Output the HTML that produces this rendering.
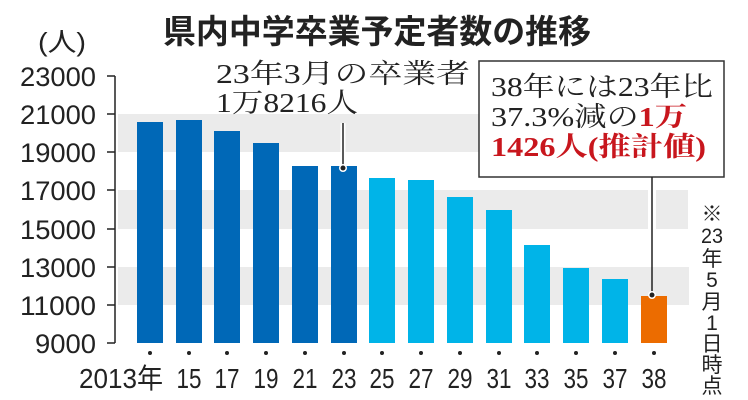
<!DOCTYPE html>
<html><head><meta charset="utf-8"><style>
body{margin:0;background:#fff}
svg{display:block}
.t{font-family:"Liberation Sans","Noto Sans CJK JP",sans-serif}
.s{font-family:"Liberation Serif","Noto Serif CJK SC",serif}
</style></head><body>
<svg width="748" height="400" viewBox="0 0 748 400">
<rect width="748" height="400" fill="#fff"/>
<rect x="118" y="114" width="362" height="38" fill="#ebebeb"/>
<rect x="118" y="190" width="530" height="39" fill="#ebebeb"/>
<rect x="656" y="190" width="32" height="39" fill="#ebebeb"/>
<rect x="118" y="267" width="571" height="38" fill="#ebebeb"/>
<g stroke="#222" stroke-width="1.5" fill="none">
<path d="M115 76V343"/>
<path d="M107 76H115M107 114H115M107 152H115M107 190H115M107 229H115M107 267H115M107 305H115M107 343H115"/>
</g>
<g class="t" font-size="27" fill="#222" lengthAdjust="spacingAndGlyphs">
<text x="20" y="86" textLength="76" lengthAdjust="spacingAndGlyphs">23000</text>
<text x="20" y="124" textLength="76" lengthAdjust="spacingAndGlyphs">21000</text>
<text x="20" y="162" textLength="76" lengthAdjust="spacingAndGlyphs">19000</text>
<text x="20" y="200" textLength="76" lengthAdjust="spacingAndGlyphs">17000</text>
<text x="20" y="239" textLength="76" lengthAdjust="spacingAndGlyphs">15000</text>
<text x="20" y="277" textLength="76" lengthAdjust="spacingAndGlyphs">13000</text>
<text x="20" y="315" textLength="76" lengthAdjust="spacingAndGlyphs">11000</text>
<text x="35" y="353" textLength="61" lengthAdjust="spacingAndGlyphs">9000</text>
</g>
<text class="t" x="38" y="51" font-size="26" fill="#222" textLength="48" lengthAdjust="spacingAndGlyphs">(人)</text>
<text class="t" x="163" y="43" font-size="33" font-weight="bold" fill="#222" textLength="428" lengthAdjust="spacingAndGlyphs">県内中学卒業予定者数の推移</text>
<g>
<rect x="137" y="122" width="26" height="221" fill="#0068b7"/>
<rect x="176" y="120" width="26" height="223" fill="#0068b7"/>
<rect x="214" y="131" width="26" height="212" fill="#0068b7"/>
<rect x="253" y="143" width="26" height="200" fill="#0068b7"/>
<rect x="292" y="166" width="26" height="177" fill="#0068b7"/>
<rect x="331" y="166" width="26" height="177" fill="#0068b7"/>
<rect x="369" y="178" width="26" height="165" fill="#00b4e8"/>
<rect x="408" y="180" width="26" height="163" fill="#00b4e8"/>
<rect x="447" y="197" width="26" height="146" fill="#00b4e8"/>
<rect x="486" y="210" width="26" height="133" fill="#00b4e8"/>
<rect x="524" y="245" width="26" height="98" fill="#00b4e8"/>
<rect x="563" y="268" width="26" height="75" fill="#00b4e8"/>
<rect x="602" y="279" width="26" height="64" fill="#00b4e8"/>
<rect x="641" y="296" width="26" height="47" fill="#ec6c00"/>
</g>
<g fill="#222">
<circle cx="150" cy="353" r="2"/><circle cx="189" cy="353" r="2"/><circle cx="227" cy="353" r="2"/><circle cx="266" cy="353" r="2"/><circle cx="305" cy="353" r="2"/><circle cx="344" cy="353" r="2"/><circle cx="382" cy="353" r="2"/><circle cx="421" cy="353" r="2"/><circle cx="460" cy="353" r="2"/><circle cx="499" cy="353" r="2"/><circle cx="537" cy="353" r="2"/><circle cx="576" cy="353" r="2"/><circle cx="615" cy="353" r="2"/><circle cx="654" cy="353" r="2"/>
</g>
<g class="t" font-size="28" fill="#222" text-anchor="middle">
<text x="121" y="388" textLength="84" lengthAdjust="spacingAndGlyphs">2013年</text>
<text x="189" y="388" textLength="25" lengthAdjust="spacingAndGlyphs">15</text>
<text x="227" y="388" textLength="25" lengthAdjust="spacingAndGlyphs">17</text>
<text x="266" y="388" textLength="25" lengthAdjust="spacingAndGlyphs">19</text>
<text x="305" y="388" textLength="25" lengthAdjust="spacingAndGlyphs">21</text>
<text x="344" y="388" textLength="25" lengthAdjust="spacingAndGlyphs">23</text>
<text x="382" y="388" textLength="25" lengthAdjust="spacingAndGlyphs">25</text>
<text x="421" y="388" textLength="25" lengthAdjust="spacingAndGlyphs">27</text>
<text x="460" y="388" textLength="25" lengthAdjust="spacingAndGlyphs">29</text>
<text x="499" y="388" textLength="25" lengthAdjust="spacingAndGlyphs">31</text>
<text x="537" y="388" textLength="25" lengthAdjust="spacingAndGlyphs">33</text>
<text x="576" y="388" textLength="25" lengthAdjust="spacingAndGlyphs">35</text>
<text x="615" y="388" textLength="25" lengthAdjust="spacingAndGlyphs">37</text>
<text x="654" y="388" textLength="25" lengthAdjust="spacingAndGlyphs">38</text>
</g>
<text class="s" x="216" y="83" font-size="27" fill="#222" textLength="254" lengthAdjust="spacingAndGlyphs">23年3月の卒業者</text>
<text class="s" x="216" y="112" font-size="27" fill="#222" textLength="142" lengthAdjust="spacingAndGlyphs">1万8216人</text>
<path d="M343 123V166" stroke="#fff" stroke-width="5"/>
<path d="M343 123V166" stroke="#222" stroke-width="1.5"/>
<circle cx="343" cy="168" r="4" fill="#fff"/><circle cx="343" cy="168" r="2.5" fill="#222"/>
<rect x="479" y="61" width="245" height="116" fill="#fff" stroke="#333" stroke-width="1.5"/>
<text class="s" x="491" y="96" font-size="27" fill="#222" textLength="222" lengthAdjust="spacingAndGlyphs">38年には23年比</text>
<text class="s" x="491" y="126" font-size="27" fill="#222" textLength="196" lengthAdjust="spacingAndGlyphs">37.3%減の<tspan fill="#c8161d" font-weight="bold">1万</tspan></text>
<text class="s" x="491" y="156" font-size="27" fill="#c8161d" font-weight="bold" textLength="215" lengthAdjust="spacingAndGlyphs">1426人(推計値)</text>
<path d="M652 177V293" stroke="#222" stroke-width="1.5"/>
<circle cx="652" cy="295" r="4" fill="#fff"/><circle cx="652" cy="295" r="2.5" fill="#222"/>
<g class="t" font-size="21" fill="#222" text-anchor="middle">
<text x="712" y="221">※</text>
<text x="712" y="243" textLength="22" lengthAdjust="spacingAndGlyphs">23</text>
<text x="712" y="266">年</text>
<text x="712" y="287">5</text>
<text x="712" y="309">月</text>
<text x="712" y="330">1</text>
<text x="712" y="351">日</text>
<text x="712" y="372">時</text>
<text x="712" y="393">点</text>
</g>
</svg>
</body></html>
